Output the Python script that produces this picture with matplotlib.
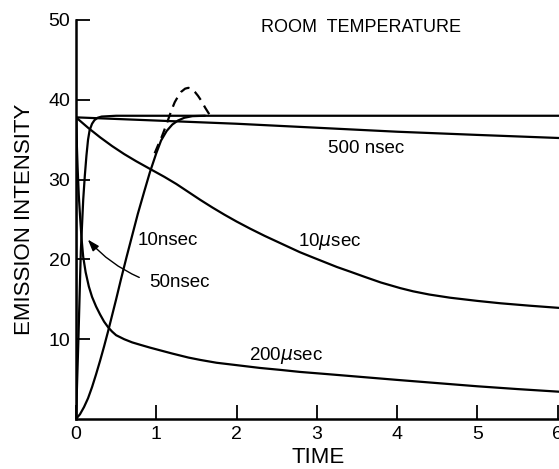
import matplotlib
matplotlib.use("Agg")
import matplotlib.pyplot as plt
from matplotlib.patches import FancyArrowPatch

plt.rcParams['font.family'] = ['Liberation Sans', 'DejaVu Sans']
plt.rcParams['mathtext.fontset'] = 'dejavusans'

# emission rise / decay curves, time vs intensity
t_500ns = [0, 0, 0.5, 1, 2, 3, 4, 5, 6.05]
i_500ns = [0, 37.8, 37.6, 37.4, 37.0, 36.5, 36.0, 35.6, 35.2]

t_10us = [0, 0, 0.15, 0.3, 0.45, 0.6, 0.75, 0.92, 1.1, 1.25, 1.4, 1.55, 1.7, 1.85,
          2.0, 2.17, 2.35, 2.5, 2.65, 2.79, 2.95, 3.1, 3.25, 3.42, 3.6, 3.8, 4.04,
          4.2, 4.4, 4.66, 5.0, 5.29, 5.65, 6.05]
i_10us = [0, 37.8, 36.5, 35.3, 34.2, 33.2, 32.3, 31.35, 30.35, 29.45, 28.45, 27.45, 26.5, 25.6,
          24.75, 23.85, 22.95, 22.25, 21.55, 20.9, 20.25, 19.65, 19.05, 18.45, 17.8, 17.1, 16.4,
          16.0, 15.6, 15.2, 14.8, 14.5, 14.2, 13.9]

t_200us = [0, 0, 0.01, 0.02, 0.035, 0.05, 0.07, 0.09, 0.12, 0.16, 0.2, 0.25, 0.3,
           0.35, 0.4, 0.45, 0.5, 0.6, 0.7, 0.8, 0.92, 1.05, 1.2, 1.4, 1.55, 1.75,
           2.0, 2.29, 2.55, 2.79, 3.1, 3.4, 3.7, 4.0, 4.5, 5.0, 5.5, 6.05]
i_200us = [0, 37.8, 34.5, 31.5, 28.0, 25.5, 22.5, 20.3, 18.4, 16.6, 15.3, 14.1, 13.1,
           12.2, 11.5, 10.95, 10.5, 10.0, 9.6, 9.3, 8.95, 8.6, 8.2, 7.7, 7.4, 7.05,
           6.75, 6.4, 6.15, 5.9, 5.65, 5.4, 5.15, 4.9, 4.5, 4.1, 3.75, 3.4]

t_50ns = [0, 0.03, 0.06, 0.09, 0.11, 0.13, 0.15, 0.17, 0.2, 0.23, 0.27, 0.32, 0.5, 6.05]
i_50ns = [0, 10.0, 21.0, 27.5, 30.5, 33.0, 35.0, 36.2, 37.0, 37.45, 37.75, 37.9, 38.0, 38.0]

t_10ns = [0, 0.05, 0.1, 0.15, 0.2, 0.25, 0.3, 0.35, 0.4, 0.45, 0.5, 0.56, 0.63,
          0.7, 0.77, 0.85, 0.92, 1.0, 1.06, 1.13, 1.2, 1.27, 1.35, 1.45, 1.6]
i_10ns = [0, 0.6, 1.5, 2.6, 4.0, 5.6, 7.3, 9.1, 11.0, 13.0, 15.0, 17.5, 20.3,
          23.0, 25.7, 28.5, 30.9, 33.3, 34.9, 36.1, 36.9, 37.4, 37.75, 37.95, 38.0]

# overshoot of the 10 nsec curve (dashed)
t_over = [0.98, 1.03, 1.07, 1.13, 1.19, 1.23, 1.27, 1.31, 1.36, 1.40, 1.44,
          1.48, 1.52, 1.56, 1.61, 1.66]
i_over = [33.3, 34.5, 35.4, 37.0, 38.7, 39.7, 40.4, 41.0, 41.4, 41.5, 41.4,
          41.0, 40.5, 39.9, 39.0, 38.2]

fig = plt.figure(figsize=(5.59, 4.69), dpi=100)
ax = fig.add_axes([76 / 559, 50 / 469, 484 / 559, 399 / 469])

lw = 1.6
for t, i in [(t_500ns, i_500ns), (t_10us, i_10us), (t_200us, i_200us),
             (t_50ns, i_50ns), (t_10ns, i_10ns)]:
    ax.plot(t, i, color='black', lw=lw, solid_joinstyle='round')
ax.plot(t_over, i_over, color='black', lw=lw, ls=(0, (4.5, 3)))

ax.set_xlim(0, 6.03)
ax.set_ylim(0, 50)
ax.spines['top'].set_visible(False)
ax.spines['right'].set_visible(False)
ax.spines['left'].set_linewidth(1.8)
ax.spines['bottom'].set_linewidth(1.8)
ax.set_xticks([0, 1, 2, 3, 4, 5, 6])
ax.set_yticks([10, 20, 30, 40, 50])
ax.tick_params(direction='in', length=10, width=1.3, labelsize=14)
ax.tick_params(axis='x', pad=5)
ax.tick_params(axis='y', pad=4)

ax.set_xlabel('TIME', fontsize=16, labelpad=3)
ax.set_ylabel('EMISSION INTENSITY', fontsize=16, labelpad=10)

ax.text(3.55, 49.0, 'ROOM  TEMPERATURE', fontsize=13, ha='center', va='center')
ax.text(1.147, 22.4, '10nsec', fontsize=13.5, ha='center', va='center')
ax.text(1.284, 17.1, '50nsec', fontsize=13.5, ha='center', va='center')
ax.text(3.167, 22.25, r'10$\mu$sec', fontsize=13.5, ha='center', va='center')
ax.text(3.616, 33.9, '500 nsec', fontsize=13.5, ha='center', va='center')
ax.text(2.62, 8.0, r'200$\mu$sec', fontsize=13.5, ha='center', va='center')

arrow = FancyArrowPatch((0.82, 17.6), (0.125, 22.75),
                        connectionstyle='arc3,rad=-0.12',
                        arrowstyle='-|>,head_length=7,head_width=2.4',
                        color='black', lw=1.0)
ax.add_patch(arrow)

fig.savefig('out.png', dpi=100)
